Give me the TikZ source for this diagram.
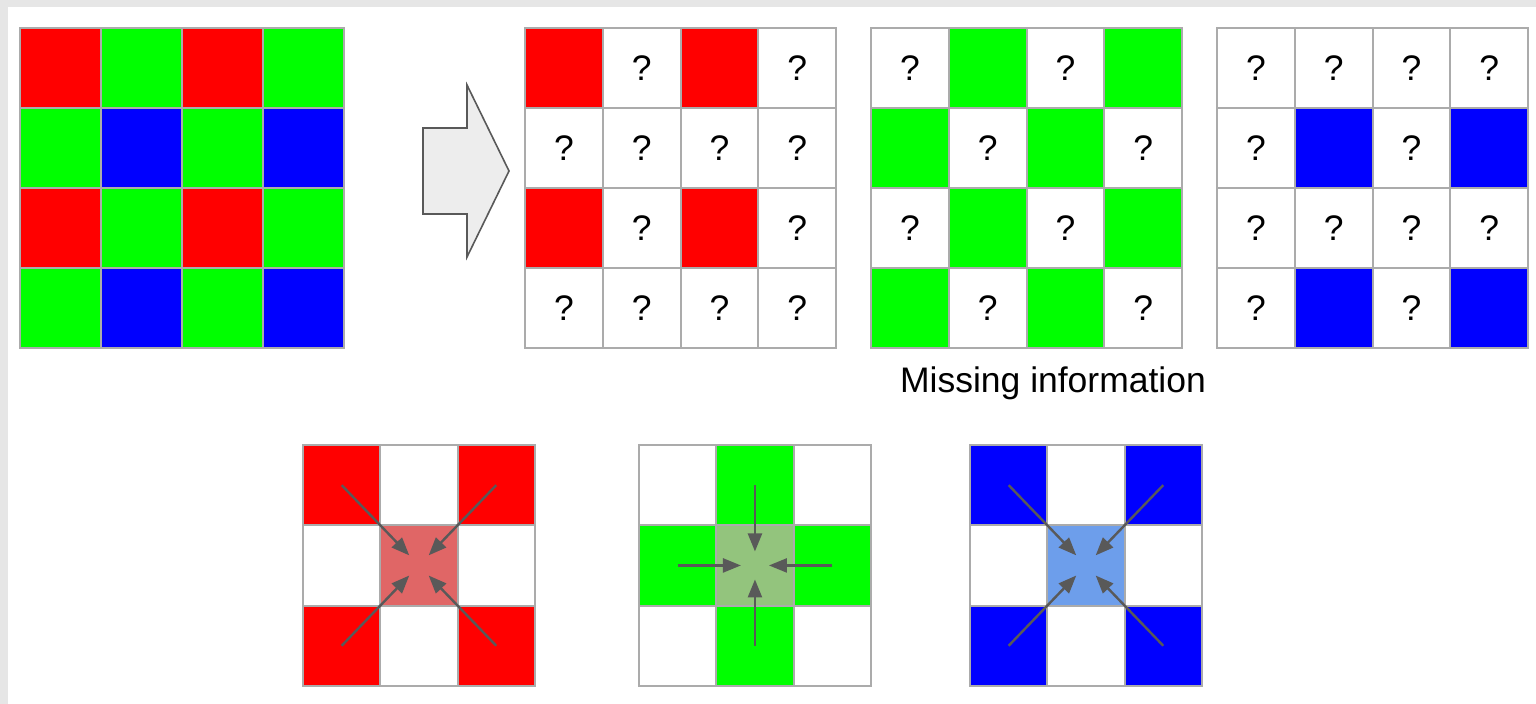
\documentclass[tikz,border=0pt]{standalone}
\usepackage{fontspec}
\setmainfont{Liberation Sans}
\usetikzlibrary{arrows.meta}

\definecolor{bayerR}{HTML}{FF0000}
\definecolor{bayerG}{HTML}{00FF00}
\definecolor{bayerB}{HTML}{0000FF}
\definecolor{mixR}{HTML}{E06666}
\definecolor{mixG}{HTML}{93C47D}
\definecolor{mixB}{HTML}{6D9EEB}
\definecolor{gridgray}{HTML}{ABABAB}
\definecolor{pullgray}{HTML}{595959}
\definecolor{edgegray}{HTML}{E6E6E6}

\tikzset{
  cellline/.style={draw=gridgray, line width=1pt},
  pullarrow/.style={draw=pullgray, line width=1.2pt,
    -{Triangle[length=9pt, width=7pt]}, shorten >=7pt, shorten <=0pt},
  bigtext/.style={font=\fontsize{17.75}{20}\selectfont},
}

\begin{document}
\begin{tikzpicture}[x=0.5pt, y=-0.5pt]
  \useasboundingbox (0,0) rectangle (1536,704);
  \fill[edgegray] (0,0) rectangle (1536,704);
  \fill[white] (8,7) rectangle (1536,704);

  % full mosaic
  \foreach \r in {0,...,3}
    \foreach \c in {0,...,3} {
      \pgfmathtruncatemacro\kk{mod(\r,2)+mod(\c,2)}
      \ifcase\kk \def\col{bayerR}\or \def\col{bayerG}\or \def\col{bayerB}\fi
      \filldraw[fill=\col, cellline] ({20+81*\c},{28+80*\r}) rectangle ++(81,80);
    }

  % conversion arrow
  \filldraw[fill=edgegray!70, draw=pullgray, line width=0.8pt]
    (423,128) -- (467,128) -- (467,85) -- (509,171) -- (467,257)
    -- (467,214) -- (423,214) -- cycle;

  % separated channels
  \foreach \x/\k/\col in {525/0/bayerR, 871/1/bayerG, 1217/2/bayerB}
    \foreach \r in {0,...,3}
      \foreach \c in {0,...,3} {
        \pgfmathtruncatemacro\kk{mod(\r,2)+mod(\c,2)}
        \ifnum\kk=\k
          \filldraw[fill=\col, cellline] ({\x+77.75*\c},{28+80*\r}) rectangle ++(77.75,80);
        \else
          \filldraw[fill=white, cellline] ({\x+77.75*\c},{28+80*\r}) rectangle ++(77.75,80);
          \node[bigtext] at ({\x+77.75*\c+38.9},{68+80*\r}) {?};
        \fi
      }
  \node[bigtext, anchor=base] (missing) at (1053,393) {Missing information};

  % interpolation neighbourhoods
  \foreach \x/\n/\k/\col/\mix in {303/R/0/bayerR/mixR, 639/G/1/bayerG/mixG, 970/B/0/bayerB/mixB}
    \foreach \r in {0,...,2}
      \foreach \c in {0,...,2} {
        \pgfmathtruncatemacro\kk{mod(\r,2)+mod(\c,2)}
        \ifnum\kk=\k \def\fillc{\col}\else \def\fillc{white}\fi
        \ifnum\kk=2 \def\fillc{\mix}\fi
        \filldraw[fill=\fillc, cellline] ({\x+77.3*\c},{445+80.3*\r}) rectangle ++(77.3,80.3);
        \coordinate (\n-\r-\c) at ({\x+77.3*\c+38.65},{485.15+80.3*\r});
      }
  \foreach \n in {R,B}
    \foreach \a in {0-0,0-2,2-0,2-2}
      \draw[pullarrow] (\n-\a) -- (\n-1-1);
  \foreach \a in {0-1,1-0,1-2,2-1}
    \draw[pullarrow] (G-\a) -- (G-1-1);
\end{tikzpicture}
\end{document}
